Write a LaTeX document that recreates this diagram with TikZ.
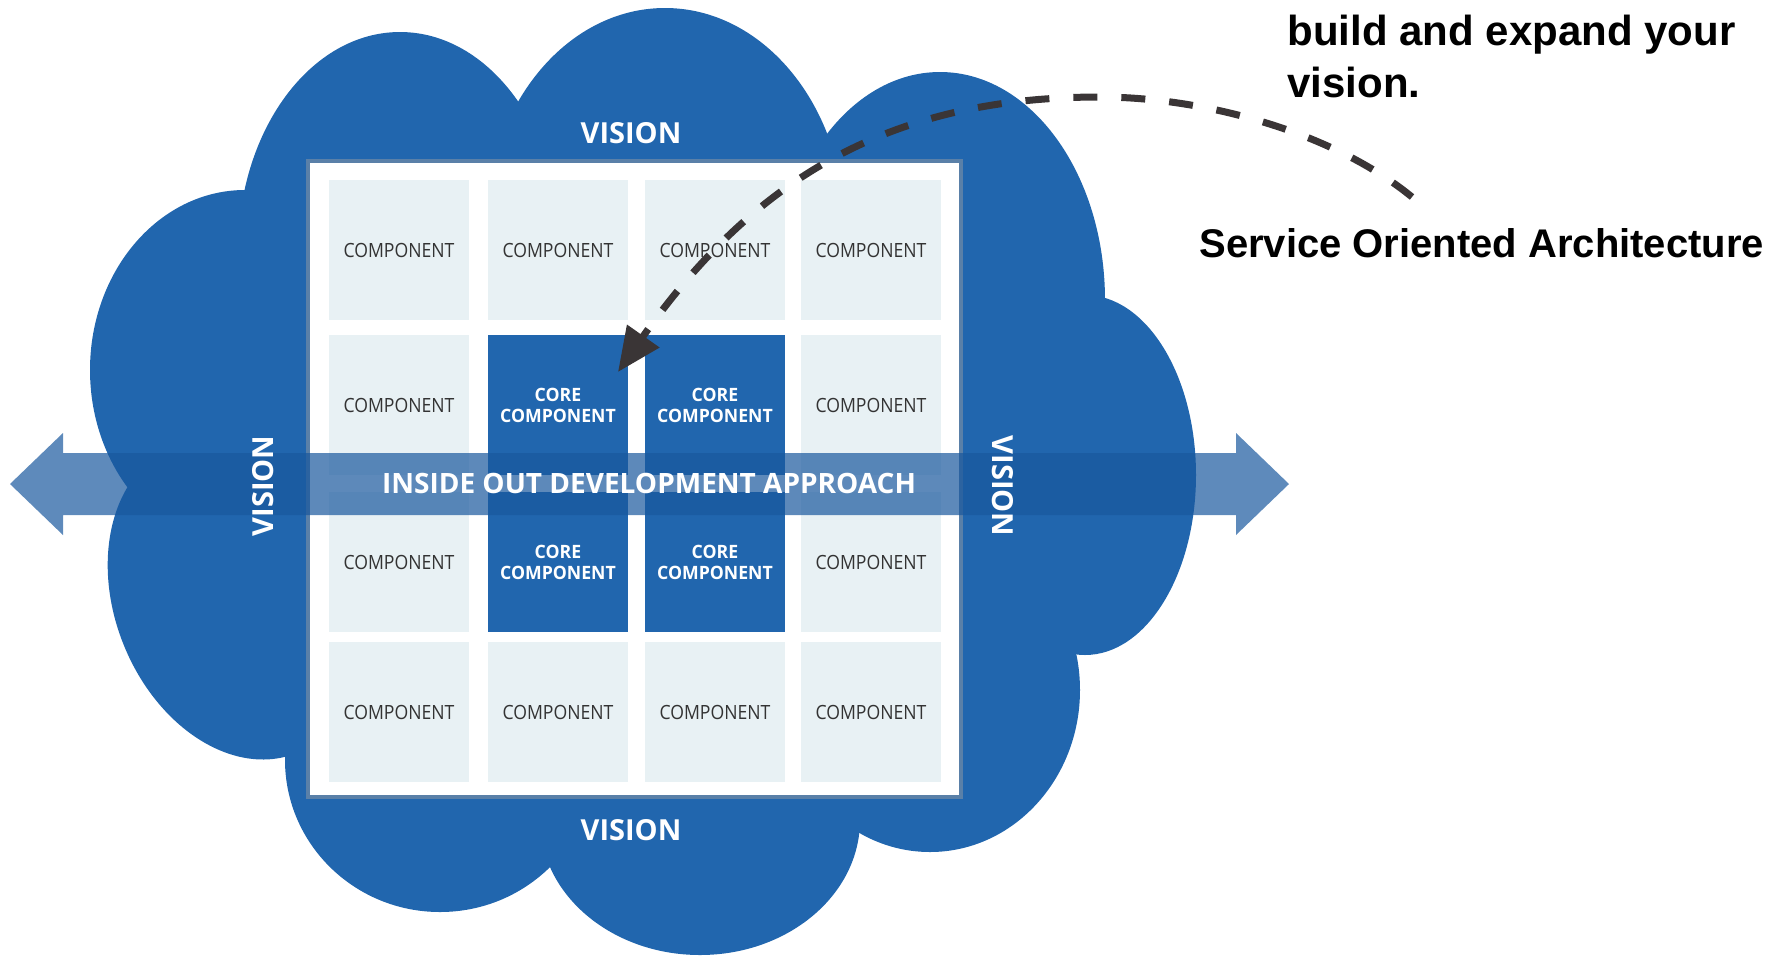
\documentclass[tikz,border=0pt]{standalone}
\usepackage{fontspec}
\setmainfont{Open Sans}
\newfontfamily\compfont[FakeStretch=0.9]{Open Sans}
\newfontfamily\corefont[FakeStretch=0.96]{Open Sans}
\newfontfamily\arialfont{Liberation Sans}
\usetikzlibrary{arrows.meta}
\definecolor{cloudblue}{HTML}{2166AE}
\definecolor{cellbg}{HTML}{E8F1F4}
\definecolor{framebd}{HTML}{5A80A8}
\definecolor{bandblue}{RGB}{25,88,158}
\definecolor{dashgray}{HTML}{3A3536}
\definecolor{comptext}{HTML}{333333}
\tikzset{
  lobe/.style={fill=cloudblue},
  cell/.style={rectangle, fill=cellbg, minimum width=70pt, minimum height=70pt, inner sep=0pt,
    font=\compfont\fontsize{9.8}{11}\selectfont, text=comptext},
  corecell/.style={rectangle, fill=cloudblue, minimum width=70pt, minimum height=70pt, inner sep=0pt,
    font=\corefont\bfseries\fontsize{9.2}{10.5}\selectfont, text=white, align=center},
  vislabel/.style={font=\bfseries\fontsize{14.5}{17}\selectfont, text=white, inner sep=0pt},
  bandlabel/.style={font=\bfseries\fontsize{14}{17}\selectfont, text=white, inner sep=0pt},
  sidetext/.style={font=\arialfont\bfseries, text=black, inner sep=0pt, anchor=base west},
}
\begin{document}
\begin{tikzpicture}[x=0.5pt,y=-0.5pt]
\useasboundingbox (0,0) rectangle (1779,955);
% cloud
\fill[lobe] (400,252) ellipse [x radius=162, y radius=220];
\fill[lobe] (665,230) ellipse [x radius=180, y radius=222];
\fill[lobe] (940,300) ellipse [x radius=165, y radius=228];
\fill[lobe] (1085,475) ellipse [x radius=111, y radius=180];
\fill[lobe] (930,690) ellipse [x radius=150, y radius=162];
\fill[lobe] (700,820) ellipse [x radius=160, y radius=135];
\fill[lobe] (440,760) ellipse [x radius=155, y radius=152];
\fill[lobe, rotate around={22:(235,600)}] (235,600) ellipse [x radius=120, y radius=165];
\fill[lobe] (245,370) ellipse [x radius=155, y radius=180];
\fill[lobe] (255,205) -- (525,110) -- (830,150) -- (1085,310) -- (1060,645) -- (850,825)
  -- (548,845) -- (298,735) -- (150,485) -- cycle;
% frame
\fill[white] (308,161) rectangle (961,797);
\draw[framebd, line width=2pt] (308,161) rectangle (961,797);
% cells
\node[cell] (c11) at (399,250) {COMPONENT};
\node[cell] (c12) at (558,250) {COMPONENT};
\node[cell] (c13) at (715,250) {COMPONENT};
\node[cell] (c14) at (871,250) {COMPONENT};
\node[cell] (c21) at (399,405) {COMPONENT};
\node[corecell] (c22) at (558,405) {CORE\\COMPONENT};
\node[corecell] (c23) at (715,405) {CORE\\COMPONENT};
\node[cell] (c24) at (871,405) {COMPONENT};
\node[cell] (c31) at (399,562) {COMPONENT};
\node[corecell] (c32) at (558,562) {CORE\\COMPONENT};
\node[corecell] (c33) at (715,562) {CORE\\COMPONENT};
\node[cell] (c34) at (871,562) {COMPONENT};
\node[cell] (c41) at (399,712) {COMPONENT};
\node[cell] (c42) at (558,712) {COMPONENT};
\node[cell] (c43) at (715,712) {COMPONENT};
\node[cell] (c44) at (871,712) {COMPONENT};
% band double arrow
\fill[bandblue, fill opacity=0.7] (10,484) -- (63,433) -- (63,453) -- (1236,453) -- (1236,433)
  -- (1289,484) -- (1236,535) -- (1236,515) -- (63,515) -- (63,535) -- cycle;
\node[bandlabel, anchor=base] (band) at (649,493) {INSIDE OUT DEVELOPMENT APPROACH};
% vision labels
\node[vislabel, anchor=base] (vtop) at (631,143) {VISION};
\node[vislabel, anchor=base] (vbot) at (631,840) {VISION};
\node[vislabel, rotate=90] (vleft) at (263,486) {VISION};
\node[vislabel, rotate=-90] (vright) at (1003,486) {VISION};
% right texts
\node[sidetext, font=\arialfont\bfseries\fontsize{21}{26}\selectfont] (t2) at (1287,45) {build and expand your};
\node[sidetext, font=\arialfont\bfseries\fontsize{21}{26}\selectfont] (t3) at (1287,97) {vision.};
\node[sidetext, font=\arialfont\bfseries\fontsize{20}{24}\selectfont] (soa) at (1199,257) {Service Oriented Architecture};
% dashed arrow
\coordinate (arrstart) at (1412,197);
\coordinate (arrtop) at (1100,97);
\coordinate (arrtip) at (618,372);
\draw[dashgray, line width=3.5pt, dash pattern=on 12pt off 12pt, -{Triangle[length=22pt,width=19pt]}]
  (arrstart) .. controls (1330,130) and (1200,97) .. (arrtop)
  .. controls (900,97) and (760,170) .. (arrtip);
\end{tikzpicture}
\end{document}
